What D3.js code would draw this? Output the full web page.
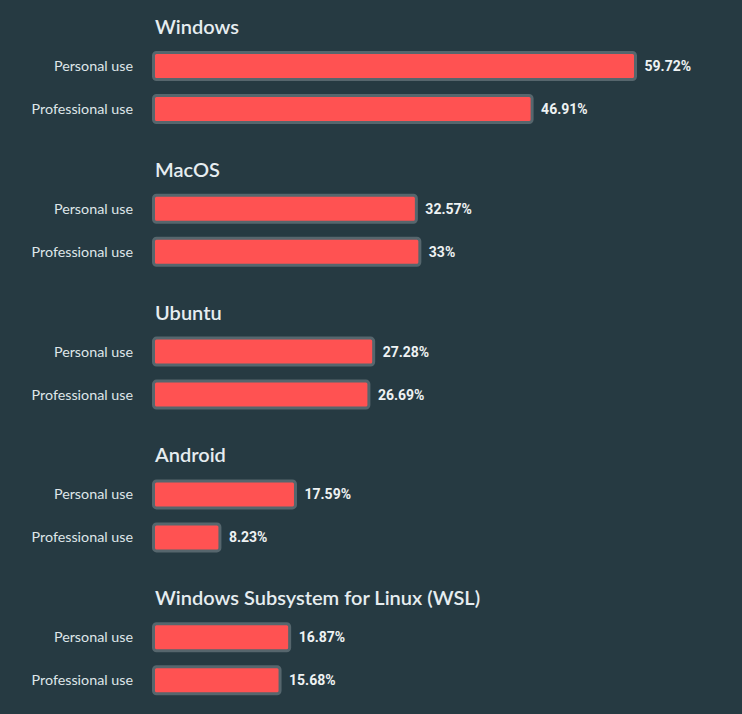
<!DOCTYPE html>
<html>
 <head>
  <style>
  body { margin: 0; background-color: #263a42; }
  svg { display: block; }
  </style>
  <script src="https://cdnjs.cloudflare.com/ajax/libs/d3/7.8.3/d3.min.js"></script>
 </head>
 <body>
  <script>
   const systems = ["Windows", "MacOS", "Ubuntu", "Android", "Windows Subsystem for Linux (WSL)"];
   const uses = ["Personal use", "Professional use"];
   const personal = [59.72, 32.57, 27.28, 17.59, 16.87];
   const professional = [46.91, 33, 26.69, 8.23, 15.68];

   const w = 742;
   const h = 714;

   const dataset = [];
   systems.forEach((s, i) => {
    dataset.push({system: s, use: uses[0], value: personal[i]});
    dataset.push({system: s, use: uses[1], value: professional[i]});
   });

   const svg = d3.select("body")
                 .append("svg")
                 .attr("width", w)
                 .attr("height", h);

   const groupScale = d3.scaleBand()
                        .domain(systems)
                        .range([0, h]);
   const rowScale = d3.scalePoint()
                      .domain(uses)
                      .range([66, 109]);
   const xScale = d3.scaleLinear()
                    .domain([0, 59.72])
                    .range([153.5, 635.5]);
   const barH = 27;

   const groups = svg.selectAll("g.group")
                     .data(systems)
                     .enter()
                     .append("g")
                     .attr("class", "group")
                     .attr("transform", d => "translate(0," + groupScale(d) + ")");

   groups.append("text")
         .attr("x", 155)
         .attr("y", 34)
         .attr("fill", "#e6edf0")
         .style("font-family", "Lato, sans-serif")
         .style("font-weight", "600")
         .style("font-size", "20px")
         .text(d => d);

   const rows = groups.selectAll("g.row")
                      .data(s => dataset.filter(d => d.system === s))
                      .enter()
                      .append("g")
                      .attr("class", "row")
                      .attr("transform", d => "translate(0," + rowScale(d.use) + ")");

   rows.append("text")
       .attr("x", 133)
       .attr("y", 0)
       .attr("dy", "0.35em")
       .attr("text-anchor", "end")
       .attr("fill", "#dfe6e9")
       .style("font-family", "Lato, sans-serif")
       .style("font-size", "14.3px")
       .text(d => d.use);

   rows.append("rect")
       .attr("x", xScale(0))
       .attr("y", -barH / 2)
       .attr("width", d => xScale(d.value) - xScale(0))
       .attr("height", barH)
       .attr("rx", 3)
       .attr("fill", "#ff5252")
       .attr("stroke", "#56666d")
       .attr("stroke-width", 3);

   rows.append("text")
       .attr("x", d => xScale(d.value) + 9)
       .attr("y", 0)
       .attr("dy", "0.35em")
       .attr("fill", "#eef2f3")
       .style("font-family", "Roboto, sans-serif")
       .style("font-weight", "bold")
       .style("font-size", "14px")
       .text(d => d.value + "%");
  </script>
 </body>
</html>
